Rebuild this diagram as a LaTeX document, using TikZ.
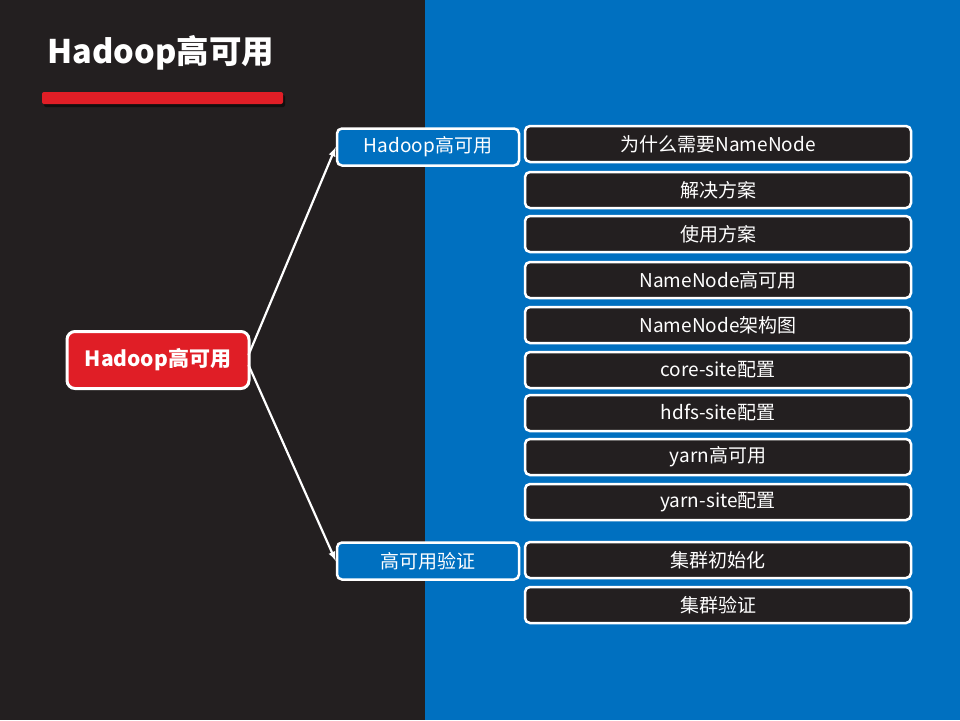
\documentclass[tikz,border=0pt]{standalone}
\usepackage{fontspec}
\setmainfont{Noto Sans CJK SC}
\usetikzlibrary{positioning, calc, shadows}

\definecolor{darkbg}{HTML}{231F20}
\definecolor{bluebg}{HTML}{0070C0}
\definecolor{redbar}{HTML}{E01E26}

\tikzset{
	leafbox/.style={draw=white, line width=2.5pt, fill=darkbg, rounded corners=5pt, minimum width=386pt, minimum height=36pt, text=white, font=\fontsize{19}{21}\selectfont},
	branchbox/.style={draw=white, line width=2.5pt, fill=bluebg, rounded corners=5pt, minimum width=182pt, minimum height=37pt, text=white, font=\fontsize{19}{21}\selectfont},
	rootbox/.style={draw=white, line width=3pt, fill=redbar, rounded corners=8pt, minimum width=182pt, minimum height=57pt, text=white, font=\fontsize{21}{24}\selectfont\bfseries},
	link/.style={->, >=latex, draw=white, line width=2.2pt}
}

\begin{document}
\begin{tikzpicture}[x=1pt, y=-1pt]
	\fill[darkbg] (0,0) rectangle (425,720);
	\fill[bluebg] (425,0) rectangle (960,720);
	\useasboundingbox (0,0) rectangle (960,720);

	\node (title) [anchor=west, text=white, font=\fontsize{32.5}{36}\selectfont\bfseries] at (44,53) {Hadoop高可用};
	\fill[black, opacity=0.5, rounded corners=2pt] (44,95) rectangle (285,107);
	\fill[redbar, rounded corners=2pt] (42,92) rectangle (283,104);

	\node (root) [rootbox] at (158,360) {Hadoop高可用};
	\node (b1) [branchbox] at (428,147) {Hadoop高可用};
	\node (b2) [branchbox] at (428,561) {高可用验证};

	\foreach \y/\name/\txt in {144/l1/为什么需要NameNode, 190/l2/解决方案, 234/l3/使用方案, 280/l4/NameNode高可用, 325/l5/NameNode架构图, 370/l6/core-site配置, 413/l7/hdfs-site配置, 457/l8/yarn高可用, 502/l9/yarn-site配置, 560/l10/集群初始化, 605/l11/集群验证}
		\node (\name) [leafbox] at (718,\y) {\txt};

	\draw [link] ($(root.east)+(-2,-5)$) -- (b1.west);
	\draw [link] ($(root.east)+(-2,5)$) -- (b2.west);
\end{tikzpicture}
\end{document}
